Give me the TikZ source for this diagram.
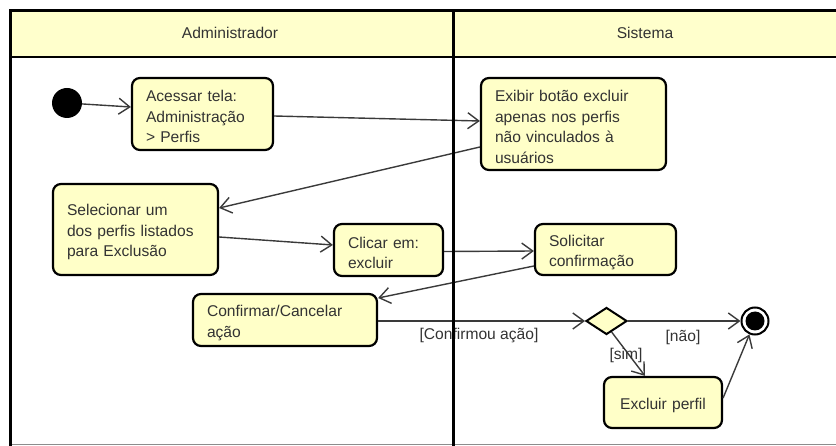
\documentclass[tikz,border=0pt]{standalone}
\usepackage{fontspec}
\setmainfont{Liberation Sans}
\usetikzlibrary{arrows.meta,shapes.geometric}
\definecolor{lanefill}{HTML}{FFFFCC}
\definecolor{boxfill}{HTML}{FFFFC8}
\definecolor{ink}{HTML}{333333}
\definecolor{wire}{HTML}{3A3A3A}
\newcommand\actfont{\fontsize{15.6}{20.5}\selectfont}

\begin{document}
\begin{tikzpicture}[x=1pt,y=-1pt,
  act/.style={rectangle, rounded corners=8pt, draw=black, line width=2.2pt,
    fill=boxfill, align=left, inner xsep=14pt, inner ysep=0pt,
    text height=17pt, font=\actfont, text=ink},
  flow/.style={draw=wire, line width=1.4pt,
    -{Straight Barb[length=11pt,width=16pt]}},
  guard/.style={font=\actfont, text=ink, inner sep=0pt},
  lanehead/.style={font=\actfont, text=ink, inner sep=0pt},
  laneline/.style={draw=black, line width=3pt}]
\useasboundingbox (0,0) rectangle (836,446);

% swimlane header band
\fill[lanefill] (10.5,10.5) rectangle (845,57);
\node[lanehead] (hadm) at (230,33) {Administrador};
\node[lanehead] (hsis) at (645,33) {Sistema};

% actions
\node[act, text width=113pt, minimum height=72pt] (acessar) at (202.5,114)
  {Acessar tela:\\Administração\\> Perfis};
\node[act, text width=157pt, minimum height=92pt] (exibir) at (573.5,124)
  {Exibir botão excluir\\apenas nos perfis\\não vinculados à\\usuários};
\node[act, text width=137pt, minimum height=91pt] (selecionar) at (135.5,229.5)
  {Selecionar um\\dos perfis listados\\para Exclusão};
\node[act, text width=81pt, minimum height=52pt] (clicar) at (388.5,250)
  {Clicar em:\\excluir};
\node[act, text width=113pt, minimum height=51pt] (solicitar) at (605.5,249.5)
  {Solicitar\\confirmação};
\node[act, text width=156pt, minimum height=52pt] (confirmar) at (285,320)
  {Confirmar/Cancelar\\ação};
\node[act, align=center, text width=90pt, minimum height=51pt] (excluir) at (663,402.5)
  {Excluir perfil};

% decision, start and end
\node[diamond, draw=black, line width=2pt, fill=boxfill, minimum width=41pt,
  minimum height=27pt, inner sep=0pt, aspect=1.5] (dec) at (606.5,321) {};
\node[circle, fill=black, minimum size=30pt, inner sep=0pt] (init) at (67,103) {};
\node[circle, draw=black, line width=2pt, fill=white, minimum size=27pt,
  inner sep=0pt] (final) at (755,321) {};
\node[circle, fill=black, minimum size=19pt, inner sep=0pt] (finaldot) at (final) {};

% control flow
\draw[flow] (init) -- ([yshift=7pt]acessar.west);
\draw[flow] ([yshift=-2pt]acessar.east) -- ([yshift=3pt]exibir.west);
\draw[flow] ([yshift=-23pt]exibir.west) -- ([yshift=21.5pt]selecionar.east);
\draw[flow] ([yshift=-7.5pt]selecionar.east) -- ([yshift=5pt]clicar.west);
\draw[flow] ([yshift=-1.5pt]clicar.east) -- ([yshift=-1.5pt]solicitar.west);
\draw[flow] ([yshift=-16.5pt]solicitar.west) -- ([yshift=22pt]confirmar.east);
\draw[flow] ([yshift=-1pt]confirmar.east) -- (dec.west);
\draw[flow] (dec.east) -- (final.west);
\draw[flow] (dec.-65) -- ([xshift=-18pt]excluir.north);
\draw[flow] ([yshift=4.5pt]excluir.east) -- (final);

% guards
\node[guard] (lblconf) at (479,336) {[Confirmou ação]};
\node[guard] (lblnao) at (683,337) {[não]};
\node[guard] (lblsim) at (626,355) {[sim]};

% lane borders
\draw[draw=black!45, line width=1.5pt] (10.5,444.5) -- (845,444.5);
\draw[laneline] (10.5,446) -- (10.5,10.5) -- (845,10.5);
\draw[draw=black, line width=2.5pt] (10.5,57) -- (845,57);
\draw[laneline] (453.5,10.5) -- (453.5,446);
\end{tikzpicture}
\end{document}
